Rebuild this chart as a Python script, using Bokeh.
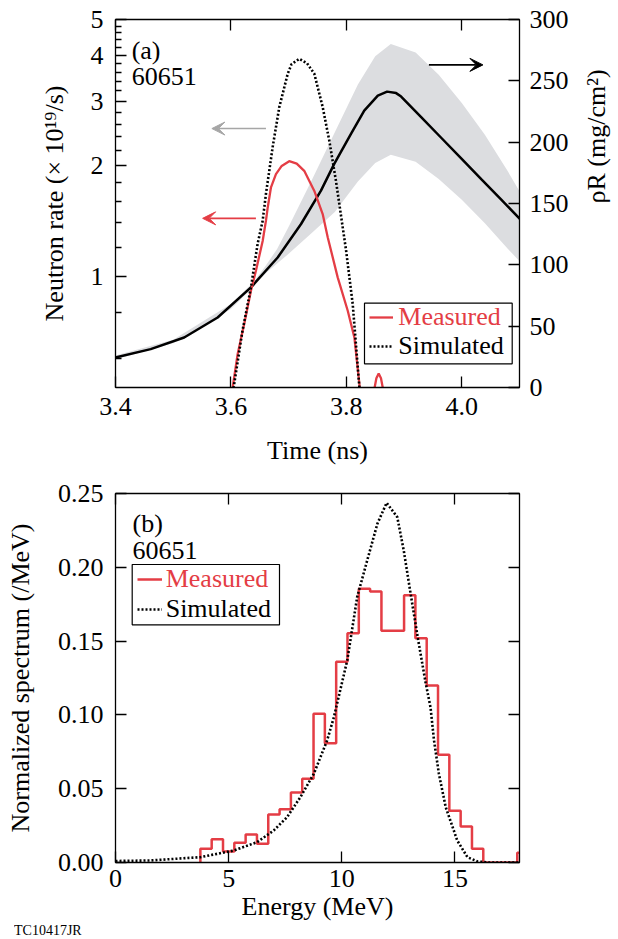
import math
from bokeh.plotting import figure
from bokeh.models import (Range1d, LinearAxis, LinearScale, FixedTicker,
                          PrintfTickFormatter, Legend, LegendItem, Arrow,
                          VeeHead, Label, BoxAnnotation, Div)
from bokeh.layouts import column
from bokeh.embed import file_html
from bokeh.resources import INLINE

FONT = "Liberation Serif"
RED = "#e43d45"
GRAY_ARROW = "#a6a6a6"
BAND = "#dcdde0"

# ---------------- panel (a) data ----------------
time_ticks = [3.4, 3.6, 3.8, 4.0]
rate_ticks = [1, 2, 3, 4, 5]
rate_minor = [0.6, 0.8, 1.2, 1.4, 1.6, 1.8, 2.2, 2.4, 2.6, 2.8,
              3.2, 3.4, 3.6, 3.8, 4.2, 4.4, 4.6, 4.8]
rho_ticks = [0, 50, 100, 150, 200, 250, 300]

t_meas = [3.598, 3.603, 3.6116, 3.623, 3.6347, 3.6434, 3.655, 3.6607, 3.6637,
          3.6694, 3.678, 3.688, 3.701, 3.714, 3.727, 3.7445, 3.759, 3.7677,
          3.785, 3.8024, 3.8139, 3.8226, 3.825]
rate_meas = [0.44, 0.50, 0.616, 0.744, 0.916, 1.04, 1.25, 1.42, 1.54,
             1.75, 1.90, 2.00, 2.06, 2.03, 1.94, 1.71, 1.48, 1.28,
             0.996, 0.808, 0.684, 0.511, 0.46]
t_bump = [3.846, 3.849, 3.852, 3.856, 3.860, 3.863, 3.866]
rate_bump = [0.46, 0.50, 0.53, 0.546, 0.53, 0.50, 0.46]

t_sim = [3.600, 3.6047, 3.620, 3.6347, 3.6463, 3.655, 3.6607, 3.6723, 3.6838,
         3.6984, 3.705, 3.7185, 3.732, 3.7445, 3.759, 3.7705, 3.782, 3.792,
         3.7995, 3.811, 3.8226, 3.826]
rate_sim = [0.44, 0.50, 0.713, 0.935, 1.23, 1.42, 1.68, 2.25, 2.89,
            3.56, 3.78, 3.91, 3.80, 3.56, 2.89, 2.34, 1.82, 1.42,
            1.18, 0.843, 0.50, 0.44]

t_rho = [3.40, 3.461, 3.519, 3.577, 3.6347, 3.681, 3.7215, 3.756, 3.779,
         3.808, 3.831, 3.8545, 3.8706, 3.8862, 3.8949, 3.9296, 3.9643,
         3.999, 4.0337, 4.0684, 4.1018]
rho = [24.5, 31.3, 40.8, 57.1, 81.6, 106, 133.3, 160.5, 182.3,
       206.7, 225.7, 238, 241.2, 240, 237.2, 220.4, 203.6,
       186.8, 169.9, 153.1, 136.9]

t_band = [3.40, 3.50, 3.60, 3.64, 3.66, 3.68, 3.70, 3.74, 3.78, 3.82, 3.85,
          3.877, 3.92, 3.96, 4.00, 4.04, 4.08, 4.10]
rho_band_hi = [26, 39, 68, 86.5, 99, 113, 131, 169, 208, 247, 270,
               280, 273, 255, 232, 206, 176, 160]
rho_band_lo = [23, 36, 64, 82.5, 93, 101, 109, 126, 143, 168, 183,
               189.8, 184, 170, 153, 134, 113, 103]

# ---------------- panel (b) data ----------------
energy_ticks = [0, 5, 10, 15]
spec_ticks = [0.0, 0.05, 0.10, 0.15, 0.20, 0.25]

bin_lo = [3.75, 4.25, 4.75, 5.25, 5.75, 6.25, 6.75, 7.25, 7.75, 8.25, 8.75,
          9.25, 9.75, 10.25, 10.75, 11.25, 11.75, 12.25, 12.75, 13.25, 13.75,
          14.25, 14.75, 15.25, 15.75, 16.25, 16.75, 17.25, 17.75]
spec_meas = [0.0093, 0.0158, 0.0075, 0.0133, 0.019, 0.0127, 0.0325, 0.0361,
             0.0474, 0.0567, 0.1007, 0.0808, 0.136, 0.1553, 0.1854, 0.1836,
             0.157, 0.157, 0.181, 0.152, 0.120, 0.073, 0.035, 0.0244, 0.0093,
             0.0, 0.0, 0.0, 0.0066]
bin_hi_last = 18.25

e_sim = [0.0, 1.54, 3.75, 5.22, 6.26, 6.99, 7.58, 8.17, 8.76, 9.35, 9.65,
         10.24, 10.68, 11.12, 11.57, 11.98, 12.45, 12.74, 13.04, 13.37, 13.70,
         13.92, 14.07, 14.29, 14.59, 15.1, 15.55, 16.0, 16.5, 17.85]
spec_sim = [0.001, 0.0014, 0.0036, 0.0081, 0.0138, 0.0217, 0.0307, 0.0443,
            0.060, 0.0827, 0.0985, 0.137, 0.180, 0.2046, 0.2295, 0.2437, 0.234,
            0.211, 0.182, 0.151, 0.122, 0.105, 0.083, 0.060, 0.0375, 0.0149,
            0.0036, 0.0007, 0.0, 0.0]


def style_axis(ax, labels=True, minor=False):
    ax.axis_line_color = "black"
    ax.axis_line_width = 1.3
    ax.major_tick_line_color = "black"
    ax.major_tick_line_width = 1.3
    ax.major_tick_in = 11
    ax.major_tick_out = 0
    if minor:
        ax.minor_tick_line_color = "black"
        ax.minor_tick_line_width = 1.3
        ax.minor_tick_in = 6
        ax.minor_tick_out = 0
    else:
        ax.minor_tick_line_color = None
    ax.major_label_text_font = FONT
    if labels:
        ax.major_label_text_color = "black"
        ax.major_label_text_font_size = "26px"
    else:
        ax.major_label_text_color = None
        ax.major_label_text_alpha = 0
        ax.major_label_text_font_size = "0px"
        ax.major_label_standoff = 0
    ax.axis_label_text_font = FONT
    ax.axis_label_text_font_size = "26px"
    ax.axis_label_text_font_style = "normal"
    ax.axis_label_text_color = "black"


def legend_pair(p, r1, lab1, r2, lab2, loc1, loc2, gw, standoff):
    common = dict(border_line_color=None, background_fill_alpha=0, padding=0,
                  margin=0, spacing=0, glyph_width=gw, glyph_height=28,
                  label_height=28, label_standoff=standoff,
                  label_text_font=FONT, label_text_font_size="26px")
    la = Legend(items=[LegendItem(label=lab1, renderers=[r1])], location=loc1,
                label_text_color=RED, **common)
    lb = Legend(items=[LegendItem(label=lab2, renderers=[r2])], location=loc2,
                label_text_color="black", **common)
    p.add_layout(la)
    p.add_layout(lb)


# ================= panel (a) =================
p1 = figure(frame_width=404, frame_height=368,
            x_range=Range1d(3.4, 4.1), y_range=Range1d(0.5, 5),
            y_axis_type="log", output_backend="svg", toolbar_location=None,
            min_border_left=115, min_border_right=99, min_border_top=19,
            min_border_bottom=83, outline_line_color="black",
            background_fill_color="white", border_fill_color="white")
p1.xgrid.grid_line_color = None
p1.ygrid.grid_line_color = None
p1.extra_y_ranges = {"rho": Range1d(0, 300)}
p1.extra_y_scales = {"rho": LinearScale()}

xb = p1.xaxis[0]
xb.ticker = FixedTicker(ticks=time_ticks)
xb.formatter = PrintfTickFormatter(format="%.1f")
xb.axis_label = "Time (ns)"
style_axis(xb)
xb.major_label_standoff = 10
xb.axis_label_standoff = 18

yl = p1.yaxis[0]
yl.ticker = FixedTicker(ticks=rate_ticks, minor_ticks=rate_minor)
yl.formatter = PrintfTickFormatter(format="%d")
yl.axis_label = "Neutron rate (× 10¹⁹/s)"
style_axis(yl, minor=True)
yl.major_label_standoff = 12
yl.axis_label_standoff = 19

xt = LinearAxis(ticker=FixedTicker(ticks=time_ticks))
style_axis(xt, labels=False)
p1.add_layout(xt, "above")

yr = LinearAxis(y_range_name="rho", ticker=FixedTicker(ticks=rho_ticks),
                axis_label="ρR (mg/cm²)")
yr.formatter = PrintfTickFormatter(format="%d")
style_axis(yr)
yr.major_label_standoff = 10
yr.axis_label_standoff = 25
try:
    yr.axis_label_orientation = math.pi / 2
except Exception:
    pass
p1.add_layout(yr, "right")

p1.varea(x=t_band, y1=rho_band_lo, y2=rho_band_hi, y_range_name="rho",
         fill_color=BAND, fill_alpha=1.0)
p1.line(t_rho, rho, y_range_name="rho", line_color="black", line_width=2.5)
r_meas = p1.line(t_meas, rate_meas, line_color=RED, line_width=2.3)
p1.line(t_bump, rate_bump, line_color=RED, line_width=2.3)
r_sim = p1.line(t_sim, rate_sim, line_color="black", line_width=2.6,
                line_dash="2 2")

p1.add_layout(Arrow(end=VeeHead(size=13, fill_color=GRAY_ARROW, line_color=GRAY_ARROW),
                    x_start=3.6607, y_start=2.527, x_end=3.567, y_end=2.527,
                    line_color=GRAY_ARROW, line_width=1.6))
p1.add_layout(Arrow(end=VeeHead(size=13, fill_color=RED, line_color=RED),
                    x_start=3.6433, y_start=1.441, x_end=3.551, y_end=1.441,
                    line_color=RED, line_width=1.6))
p1.add_layout(Arrow(end=VeeHead(size=13, fill_color="black", line_color="black"),
                    x_start=3.943, y_start=263, x_end=4.0366, y_end=263,
                    y_range_name="rho", line_color="black", line_width=1.6))

for txt, yv in (("(a)", 4.12), ("60651", 3.50)):
    p1.add_layout(Label(x=3.428, y=yv, text=txt, text_font=FONT,
                        text_font_size="26px", text_color="black",
                        text_baseline="alphabetic"))

legend_pair(p1, r_meas, "Measured", r_sim, "Simulated",
            (254.3, 54.7), (254.3, 26.3), 24, 5)
p1.add_layout(BoxAnnotation(left=249, right=396.7, bottom=23.7, top=84.3,
                            left_units="screen", right_units="screen",
                            top_units="screen", bottom_units="screen",
                            fill_alpha=0, line_color="black", line_width=1.2,
                            line_alpha=1))

# ================= panel (b) =================
p2 = figure(frame_width=404, frame_height=369,
            x_range=Range1d(0, 17.85), y_range=Range1d(0, 0.25),
            output_backend="svg", toolbar_location=None,
            min_border_left=115, min_border_right=99, min_border_top=23,
            min_border_bottom=62, outline_line_color="black",
            background_fill_color="white", border_fill_color="white")
p2.xgrid.grid_line_color = None
p2.ygrid.grid_line_color = None

xb2 = p2.xaxis[0]
xb2.ticker = FixedTicker(ticks=energy_ticks)
xb2.formatter = PrintfTickFormatter(format="%d")
xb2.axis_label = "Energy (MeV)"
style_axis(xb2)
xb2.major_label_standoff = 7
xb2.axis_label_standoff = 2

yl2 = p2.yaxis[0]
yl2.ticker = FixedTicker(ticks=spec_ticks)
yl2.formatter = PrintfTickFormatter(format="%.2f")
yl2.axis_label = "Normalized spectrum (/MeV)"
style_axis(yl2)
yl2.major_label_standoff = 12
yl2.axis_label_standoff = 20

xt2 = LinearAxis(ticker=FixedTicker(ticks=energy_ticks))
style_axis(xt2, labels=False)
p2.add_layout(xt2, "above")
yr2 = LinearAxis(ticker=FixedTicker(ticks=spec_ticks))
style_axis(yr2, labels=False)
p2.add_layout(yr2, "right")

hist_x = [bin_lo[0]] + bin_lo + [bin_hi_last]
hist_y = [0.0] + spec_meas + [spec_meas[-1]]
r_meas2 = p2.step(hist_x, hist_y, mode="after", line_color=RED, line_width=2.5)
r_sim2 = p2.line(e_sim, spec_sim, line_color="black", line_width=2.6,
                 line_dash="2 2")

for txt, yv in (("(b)", 0.2299), ("60651", 0.2114)):
    p2.add_layout(Label(x=0.75, y=yv, text=txt, text_font=FONT,
                        text_font_size="26px", text_color="black",
                        text_baseline="alphabetic"))

legend_pair(p2, r_meas2, "Measured", r_sim2, "Simulated",
            (21.7, 267.7), (21.7, 237.7), 25, 4)
p2.add_layout(BoxAnnotation(left=16.7, right=164, bottom=237.7, top=298,
                            left_units="screen", right_units="screen",
                            top_units="screen", bottom_units="screen",
                            fill_alpha=0, line_color="black", line_width=1.2,
                            line_alpha=1))

# ================= footer (figure code) =================
footer = Div(text="TC10417JR", width=590, height=15, margin=(0, 0, 0, 14),
             styles={"font-family": "'Liberation Serif', serif",
                     "font-size": "14px", "line-height": "14px",
                     "color": "black", "overflow": "hidden"})

layout = column(p1, p2, footer, spacing=0)
open("out.html", "w").write(file_html(layout, INLINE))
